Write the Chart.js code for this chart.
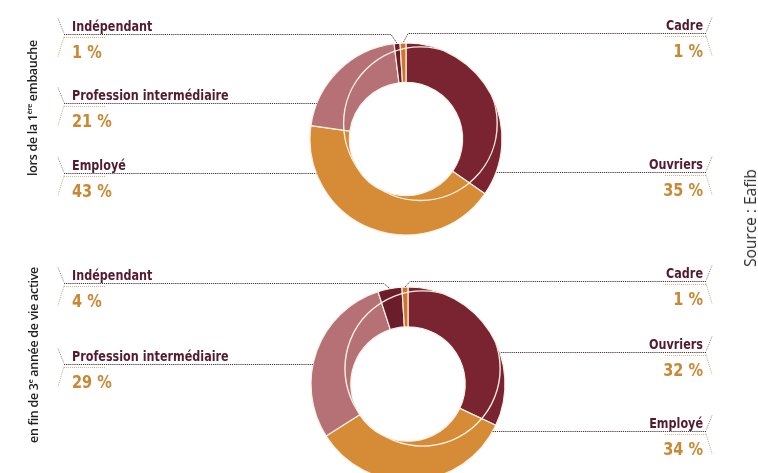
<!DOCTYPE html>
<html lang="fr">
<head>
<meta charset="utf-8">
<script src="https://cdn.jsdelivr.net/npm/chart.js@4.4.1/dist/chart.umd.min.js"></script>
<style>
  html, body { margin: 0; padding: 0; background: #fff; width: 758px; height: 473px; overflow: hidden; }
  .pane { position: absolute; left: 0; width: 758px; }
  #paneTop { top: 0; height: 236px; }
  #paneBottom { top: 236px; height: 260px; }
  .vtitle {
    position: absolute; white-space: nowrap;
    transform: translate(-50%, -50%) rotate(-90deg);
    font: 600 12.5px "Open Sans", sans-serif; color: #1f1f1f; letter-spacing: -0.3px;
  }
  .vtitle sup { font-size: 7px; vertical-align: 5px; line-height: 0; }
  .source {
    position: absolute; white-space: nowrap;
    transform: translate(-50%, -50%) rotate(-90deg);
    font: 400 15.5px "Open Sans", sans-serif; color: #2b2b2b;
  }
</style>
</head>
<body>
<div class="pane" id="paneTop"><canvas id="chartTop" width="758" height="236"></canvas></div>
<div class="pane" id="paneBottom"><canvas id="chartBottom" width="758" height="260"></canvas></div>
<div class="vtitle" style="left:32px; top:108px">lors de la 1<sup>ère</sup> embauche</div>
<div class="vtitle" style="left:33px; top:355px">en fin de 3<sup>e</sup> année de vie active</div>
<div class="source" style="left:750px; top:218px">Source : Eafib</div>
<script>
// ---- data ----
const categories = ['Ouvriers', 'Employé', 'Profession intermédiaire', 'Indépendant', 'Cadre'];
const firstHireShare = [35, 43, 21, 1, 1];      // lors de la 1re embauche (%)
const thirdYearShare = [32, 34, 29, 4, 1];      // en fin de 3e année de vie active (%)

// ---- styling / layout ----
const sliceColors = ['#7a2432', '#d68b37', '#b67176', '#6c1d2c', '#cf7430'];
const calloutSidesTop = ['right', 'left', 'left', 'left', 'right'];
const calloutSidesBottom = ['right', 'right', 'left', 'left', 'right'];
const calloutRowsTop = [172, 173, 103, 34, 33];
const calloutRowsBottom = [116, 195, 128, 47, 45];
const LEFT_X = 64, RIGHT_X = 706;
const NAME_FONT = 'bold 14px "DejaVu Sans Condensed", "DejaVu Sans", sans-serif';
const VALUE_FONT = 'bold 17px "DejaVu Sans Condensed", "DejaVu Sans", sans-serif';
const NAME_SQUEEZE = 0.89;

// thin highlight circle giving the ring its tilted look
const ringHighlight = {
  id: 'ringHighlight',
  afterDatasetsDraw(chart) {
    const arc = chart.getDatasetMeta(0).data[0];
    if (!arc) return;
    const { x, y, outerRadius: R, innerRadius: r } = arc.getProps(['x', 'y', 'outerRadius', 'innerRadius'], true);
    const ctx = chart.ctx;
    ctx.save();
    ctx.beginPath();
    ctx.arc(x, y, R - 0.5, 0, Math.PI * 2);
    ctx.arc(x, y, r + 0.5, 0, Math.PI * 2, true);
    ctx.clip();
    ctx.beginPath();
    ctx.arc(x + 0.15 * R, y - 0.16 * R, 0.8 * R, 0, Math.PI * 2);
    ctx.strokeStyle = 'rgba(255,248,236,0.95)';
    ctx.lineWidth = 1.4;
    ctx.stroke();
    ctx.restore();
  }
};

function dotted(ctx, pts, color, width, dash) {
  ctx.save();
  ctx.beginPath();
  ctx.moveTo(pts[0][0], pts[0][1]);
  for (let k = 1; k < pts.length; k++) ctx.lineTo(pts[k][0], pts[k][1]);
  ctx.setLineDash(dash);
  ctx.strokeStyle = color;
  ctx.lineWidth = width;
  ctx.stroke();
  ctx.restore();
}

function squeezedText(ctx, text, x, y, sx) {
  ctx.save();
  ctx.translate(x, y);
  ctx.scale(sx, 1);
  ctx.fillText(text, 0, 0);
  ctx.restore();
}

// labels with leader lines to each slice
const callouts = {
  id: 'callouts',
  afterDatasetsDraw(chart, args, opts) {
    const ctx = chart.ctx;
    const meta = chart.getDatasetMeta(0);
    const values = chart.data.datasets[0].data;
    meta.data.forEach((arc, i) => {
      const { x: cx, y: cy, startAngle, endAngle, outerRadius: R } =
        arc.getProps(['x', 'y', 'startAngle', 'endAngle', 'outerRadius'], true);
      const side = opts.sides[i];
      const lineY = opts.rows[i] + 0.5;
      const dir = side === 'left' ? -1 : 1;
      const edgeX = side === 'left' ? LEFT_X : RIGHT_X;

      let pts = null;
      const dy = lineY - cy;
      if (Math.abs(dy) < R) {
        const dx = dir * Math.sqrt(R * R - dy * dy);
        let a = Math.atan2(dy, dx);
        while (a < startAngle) a += Math.PI * 2;
        if (a <= endAngle) pts = [[edgeX, lineY], [cx + dx, lineY]];
      }
      if (!pts) {
        const mid = (startAngle + endAngle) / 2;
        const px = cx + R * Math.cos(mid), py = cy + R * Math.sin(mid);
        pts = [[edgeX, lineY], [px + (side === 'left' ? -6 : 5), lineY], [px, py]];
      }
      dotted(ctx, pts, '#43363e', 1, [1.2, 0.9]);

      // short light underline and chevron ticks
      const s = side === 'left' ? 1 : -1;
      dotted(ctx, [[edgeX, lineY + 3], [edgeX + s * 42, lineY + 3]], '#d4b486', 1, [1, 1]);
      dotted(ctx, [[edgeX - s * 6, lineY - 16], [edgeX, lineY - 1]], '#8e8274', 1, [1, 1]);
      dotted(ctx, [[edgeX, lineY + 2], [edgeX - s * 6, lineY + 22]], '#c6aa82', 1, [1, 1]);

      // texts
      ctx.save();
      ctx.textAlign = side === 'left' ? 'left' : 'right';
      ctx.textBaseline = 'alphabetic';
      const tx = side === 'left' ? edgeX + 8 : edgeX - 3;
      ctx.font = NAME_FONT;
      ctx.fillStyle = '#541a2f';
      squeezedText(ctx, chart.data.labels[i], tx, lineY - 4, NAME_SQUEEZE);
      ctx.font = VALUE_FONT;
      ctx.fillStyle = '#c98834';
      squeezedText(ctx, values[i] + ' %', tx, lineY + 23, 0.95);
      ctx.restore();
    });
  }
};

function makeDonut(canvasId, values, sides, rows, center, radius, height) {
  const pad = {
    left: center.x - radius - 1,
    right: 758 - (center.x + radius + 1),
    top: center.y - radius - 1,
    bottom: height - (center.y + radius + 1)
  };
  return new Chart(document.getElementById(canvasId), {
    type: 'doughnut',
    data: {
      labels: categories,
      datasets: [{
        data: values,
        backgroundColor: sliceColors,
        borderColor: '#fbf1e4',
        borderWidth: 1.2
      }]
    },
    options: {
      responsive: false,
      animation: false,
      devicePixelRatio: 1,
      cutout: '59%',
      radius: radius,
      layout: { padding: pad },
      plugins: {
        legend: { display: false },
        tooltip: { enabled: false },
        callouts: { sides: sides, rows: rows }
      }
    },
    plugins: [ringHighlight, callouts]
  });
}

makeDonut('chartTop', firstHireShare, calloutSidesTop, calloutRowsTop, { x: 406, y: 139 }, 96, 236);
makeDonut('chartBottom', thirdYearShare, calloutSidesBottom, calloutRowsBottom, { x: 408, y: 148 }, 97, 260);
</script>
</body>
</html>
